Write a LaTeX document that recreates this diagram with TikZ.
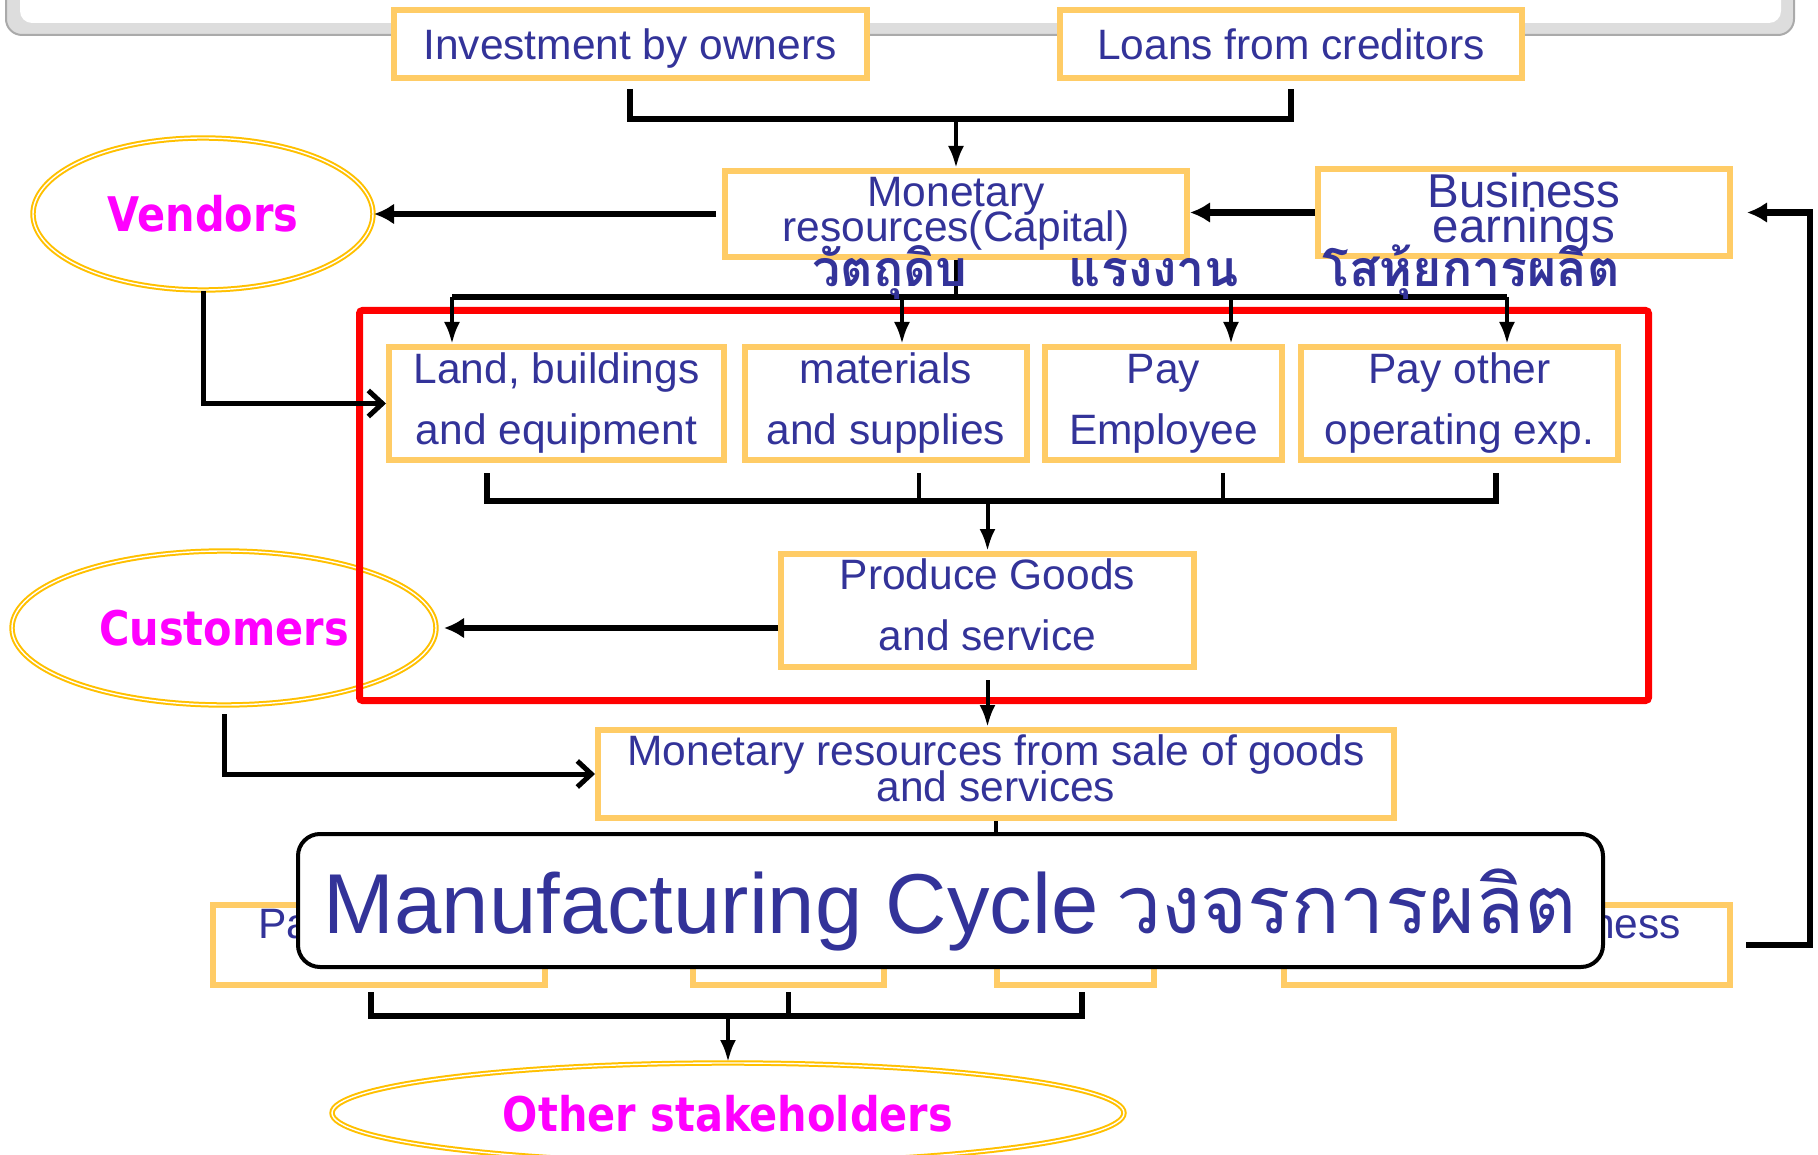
\documentclass[tikz,border=0pt]{standalone}
\usepackage{fontspec}
\setmainfont{Liberation Sans}
\newfontfamily\thaifont[Script=Thai]{Loma}
\newfontfamily\tagfont[FakeStretch=0.87]{DejaVu Sans}
\usetikzlibrary{shapes.geometric, arrows.meta}

\definecolor{textblue}{RGB}{51,51,153}
\definecolor{boxyellow}{RGB}{255,204,102}
\definecolor{ringgold}{RGB}{255,192,0}
\definecolor{tagpink}{RGB}{255,0,255}
\definecolor{framegray}{RGB}{170,170,170}
\definecolor{bandgray}{RGB}{221,221,221}

\begin{document}
\begin{tikzpicture}[x=1pt, y=-1pt, node distance=300pt]

	\tikzstyle{box} = [rectangle, draw=boxyellow, line width=6pt, fill=white, text=textblue, align=center, inner sep=4pt, font={\fontsize{42.5}{61}\selectfont}]
	\tikzstyle{tightbox} = [box, font={\fontsize{42.5}{35}\selectfont\lineskiplimit=-100pt}]
	\tikzstyle{coveredbox} = [box, inner ysep=0pt, minimum height=80pt, text height=30pt, text depth=44pt]
	\tikzstyle{party} = [ellipse, draw=ringgold, line width=2pt, double=white, double distance=1.4pt, fill=white, text=tagpink, inner sep=0pt, font={\tagfont\bfseries\fontsize{47.7}{50}\selectfont}]
	\tikzstyle{titlebox} = [rectangle, rounded corners=22pt, draw=black, line width=4pt, fill=white, text=textblue, inner sep=0pt, minimum width=1305pt, minimum height=133pt, text height=80pt, text depth=15pt, font={\fontsize{85}{90}\selectfont}]
	\tikzstyle{thailabel} = [text=textblue, anchor=base, font={\thaifont\bfseries\fontsize{50}{54}\selectfont}]
	\tikzstyle{arrow} = [line width=4pt, -{Latex[length=22pt,width=16pt]}]
	\tikzstyle{bigarrow} = [line width=6.5pt, -{Latex[length=20pt,width=21pt]}]
	\tikzstyle{openarrow} = [line width=5pt, -{Straight Barb[length=14pt,width=26pt]}]
	\tikzstyle{bus} = [line width=5.5pt]
	\tikzstyle{stub} = [line width=4.5pt]

	\useasboundingbox (0,0) rectangle (1818,1155);
	\clip (0,0) rectangle (1818,1155);

	% Frame
	\draw [draw=framegray, fill=bandgray, line width=2pt, rounded corners=16pt] (6,-60) rectangle (1794,35);
	\fill [white, rounded corners=12pt] (20,-60) rectangle (1781,23);

	% Nodes
	\node (capital) [tightbox, minimum width=462pt, minimum height=86pt] at (956,214) {Monetary\\resources(Capital)};
	\node (invest) [box, minimum width=473pt, minimum height=68pt, text depth=0pt, above of=capital, xshift=-326pt, yshift=-130pt] {Investment by owners};
	\node (loans) [box, minimum width=462pt, minimum height=68pt, right of=invest, xshift=361pt] {Loans from creditors};
	\node (earn) [tightbox, minimum width=412pt, minimum height=83pt, right of=capital, xshift=268pt, yshift=1.5pt, font={\fontsize{47.5}{35}\selectfont\lineskiplimit=-100pt}] {Business\\earnings};
	\node (vendors) [party, minimum width=340pt, minimum height=152pt, left of=capital, xshift=-453pt] {Vendors};
	\node (land) [box, minimum width=335pt, minimum height=113pt, below of=capital, xshift=-399.5pt, yshift=110.5pt] {Land, buildings\\and equipment};
	\node (supplies) [box, minimum width=282pt, minimum height=113pt, right of=land, xshift=29.5pt] {materials\\and supplies};
	\node (wages) [box, minimum width=237pt, minimum height=113pt, right of=supplies, xshift=-22.5pt] {Pay\\Employee};
	\node (overhead) [box, minimum width=317pt, minimum height=113pt, right of=wages, xshift=-4pt] {Pay other\\operating exp.};
	\node (produce) [box, minimum width=413pt, minimum height=113pt, text depth=11pt, below of=supplies, xshift=101.5pt, yshift=93pt] {Produce Goods\\and service};
	\node (customers) [party, minimum width=424pt, minimum height=154pt, left of=produce, xshift=-463.5pt, yshift=-17.5pt] {Customers};
	\node (sale) [tightbox, minimum width=796pt, minimum height=88pt, text depth=12pt, below of=produce, xshift=8.5pt, yshift=136.5pt, font={\fontsize{42.5}{36}\selectfont\lineskiplimit=-100pt}] {Monetary resources from sale of goods\\and services};
	\node (outB) [coveredbox, minimum width=191pt, below of=sale, xshift=-207.5pt, yshift=129pt] {};
	\node (outA) [coveredbox, minimum width=332pt, text width=242pt, inner xsep=45pt, align=left, left of=outB, xshift=-109.5pt] {Pa};
	\node (outC) [coveredbox, minimum width=157pt, right of=outB, xshift=-13pt] {};
	\node (reinvest) [coveredbox, minimum width=446pt, text width=348pt, inner xsep=49pt, align=right, right of=outC, xshift=131.5pt] {ness};
	\node (others) [party, minimum width=792pt, minimum height=100pt, text depth=0pt, below of=outB, xshift=-60.5pt, yshift=132pt] {Other stakeholders};
	\node (title) [titlebox, below of=sale, xshift=-45.5pt, yshift=173.5pt] {Manufacturing Cycle\hspace{-6pt} {\thaifont\fontsize{80.5}{90}\selectfont วงจรการผลิต}};

	\draw [red, line width=7pt, rounded corners=3pt] (359.5,310.5) rectangle (1648.5,700.5);

	% Arrows
	\coordinate (topjoin) at (956,119);
	\draw [bus] ([yshift=-8pt]invest.south) |- (topjoin) -| ([yshift=-8pt]loans.south);
	\draw [arrow] (topjoin) -- (capital);
	\draw [bigarrow, shorten <=6pt] (capital.west) -- (vendors.east);
	\draw [bigarrow] (earn.west) -- (earn.west -| capital.east);
	\draw [openarrow] (vendors.south) |- (land.west);

	\coordinate (split) at (956,297);
	\coordinate (inland) at ([xshift=-104.5pt]land.north);
	\coordinate (insupplies) at ([xshift=16pt]supplies.north);
	\coordinate (inwages) at ([xshift=67.5pt]wages.north);
	\coordinate (inoverhead) at ([xshift=47.5pt]overhead.north);
	\draw [stub] (capital.south) -- (split);
	\draw [bus] (inland |- split) -- (inoverhead |- split);
	\draw [arrow] (inland |- split) -- (inland);
	\draw [arrow] (insupplies |- split) -- (insupplies);
	\draw [arrow] (inwages |- split) -- (inwages);
	\draw [arrow] (inoverhead |- split) -- (inoverhead);

	\coordinate (merge) at (987.5,501);
	\coordinate (fromland) at ([shift={(-69.5pt,-10pt)}]land.south);
	\coordinate (fromsupplies) at ([shift={(33pt,-10pt)}]supplies.south);
	\coordinate (fromwages) at ([shift={(59.5pt,-10pt)}]wages.south);
	\coordinate (fromoverhead) at ([shift={(36.5pt,-10pt)}]overhead.south);
	\draw [bus] (fromland) |- (fromoverhead |- merge) -- (fromoverhead);
	\draw [stub] (fromsupplies) -- (fromsupplies |- merge);
	\draw [stub] (fromwages) -- (fromwages |- merge);
	\draw [arrow] (merge) -- (produce);

	\draw [bigarrow, shorten >=7pt] (produce.west |- customers.east) -- (customers.east);
	\draw [arrow, shorten <=10pt] (produce.south) -- (produce.south |- sale.north);
	\draw [openarrow, shorten <=8pt] (customers.south) |- (sale.west);
	\draw [stub] (sale.south) -- (sale.south |- title.north);

	\coordinate (gather) at (728,1016);
	\coordinate (fromoutA) at ([shift={(-8pt,-4pt)}]outA.south);
	\coordinate (fromoutB) at ([yshift=-4pt]outB.south);
	\coordinate (fromoutC) at ([shift={(6.5pt,-4pt)}]outC.south);
	\draw [bus] (fromoutA) |- (fromoutC |- gather) -- (fromoutC);
	\draw [stub] (fromoutB) -- (fromoutB |- gather);
	\draw [arrow] (gather) -- (others);

	\coordinate (loopside) at (1810,600);
	\draw [bigarrow, shorten <=13pt, shorten >=14pt] (reinvest.east) -| (loopside) |- (earn.east);

	% Labels
	\node (rawmat) [thailabel] at (890,287) {วัตถุดิบ};
	\node (labour) [thailabel] at (1154,287) {แรงงาน};
	\node (factory) [thailabel] at (1471,287) {โสหุ้ยการผลิต};

\end{tikzpicture}
\end{document}
